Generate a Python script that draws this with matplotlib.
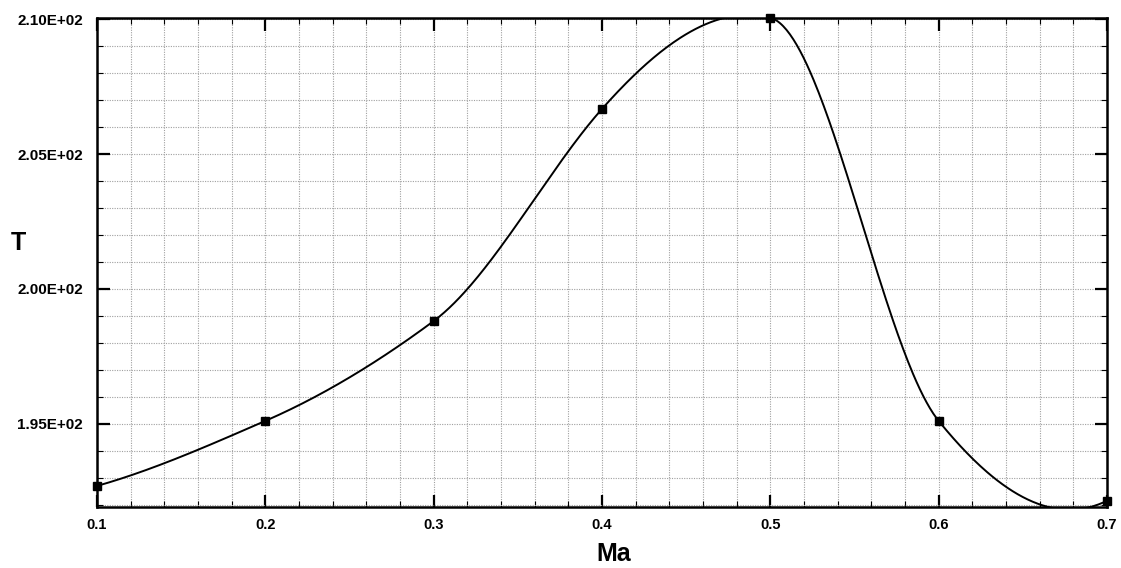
import numpy as np
import matplotlib
matplotlib.use('Agg')
import matplotlib.pyplot as plt
from matplotlib.ticker import MultipleLocator, FuncFormatter

ma = [0.1, 0.2, 0.3, 0.4, 0.5, 0.6, 0.7]
temp = [192.70, 195.11, 198.81, 206.67, 210.05, 195.11, 192.15]


def akima(x, y, n=600):
    # Akima spline through the points, close to the tecplot curve fit
    x = np.asarray(x, float)
    y = np.asarray(y, float)
    d = np.diff(y) / np.diff(x)
    # extend secants at both ends
    d = np.concatenate([[3 * d[0] - 2 * d[1], 2 * d[0] - d[1]], d,
                        [2 * d[-1] - d[-2], 3 * d[-1] - 2 * d[-2]]])
    w1 = np.abs(d[3:] - d[2:-1])
    w2 = np.abs(d[1:-2] - d[:-3])
    den = w1 + w2
    slope = np.where(den > 1e-12,
                     (w1 * d[1:-2] + w2 * d[2:-1]) / np.where(den > 1e-12, den, 1),
                     0.5 * (d[1:-2] + d[2:-1]))
    xs = np.linspace(x[0], x[-1], n)
    idx = np.clip(np.searchsorted(x, xs) - 1, 0, len(x) - 2)
    h = x[idx + 1] - x[idx]
    t = (xs - x[idx]) / h
    h00 = 2 * t ** 3 - 3 * t ** 2 + 1
    h10 = t ** 3 - 2 * t ** 2 + t
    h01 = -2 * t ** 3 + 3 * t ** 2
    h11 = t ** 3 - t ** 2
    ys = h00 * y[idx] + h10 * h * slope[idx] + h01 * y[idx + 1] + h11 * h * slope[idx + 1]
    return xs, ys


plt.rcParams['font.family'] = ['Liberation Sans', 'DejaVu Sans']
plt.rcParams['font.weight'] = 'bold'

fig = plt.figure(figsize=(11.21, 5.68), dpi=100)
ax = fig.add_axes([0.0865, 0.1074, 0.9010, 0.8609])

xs, ys = akima(ma, temp)
ax.plot(xs, ys, color='black', lw=1.4, zorder=3)
ax.plot(ma, temp, 's', color='black', ms=5.5, clip_on=False, zorder=4)

ax.set_xlim(0.1, 0.7)
ax.set_ylim(191.92, 210.04)

ax.xaxis.set_major_locator(MultipleLocator(0.1))
ax.xaxis.set_minor_locator(MultipleLocator(0.02))
ax.yaxis.set_major_locator(MultipleLocator(5))
ax.yaxis.set_minor_locator(MultipleLocator(1))
ax.xaxis.set_major_formatter(FuncFormatter(lambda v, p: f'{v:.1f}'))
ax.yaxis.set_major_formatter(FuncFormatter(lambda v, p: f'{v:.2E}'))

ax.grid(True, which='both', color='#a0a0a0', ls=(0, (1, 1.2)), lw=0.8)
ax.set_axisbelow(True)

ax.tick_params(which='major', direction='in', length=9, width=1.6,
               top=True, right=True)
ax.tick_params(which='minor', direction='in', length=4, width=0.8,
               top=True, right=True)
ax.tick_params(axis='x', labelsize=10.5, pad=8)
ax.tick_params(axis='y', labelsize=11, pad=10)
for lab in ax.get_xticklabels() + ax.get_yticklabels():
    lab.set_fontweight('bold')

for s in ax.spines.values():
    s.set_linewidth(1.8)

ax.set_xlabel('Ma', fontsize=18, fontweight='bold')
ax.xaxis.set_label_coords(0.512, -0.072)
ax.set_ylabel('T', fontsize=18, fontweight='bold', rotation=0, va='center')
ax.yaxis.set_label_coords(-0.078, 0.54)

fig.savefig('out.png', dpi=100)
plt.close()
